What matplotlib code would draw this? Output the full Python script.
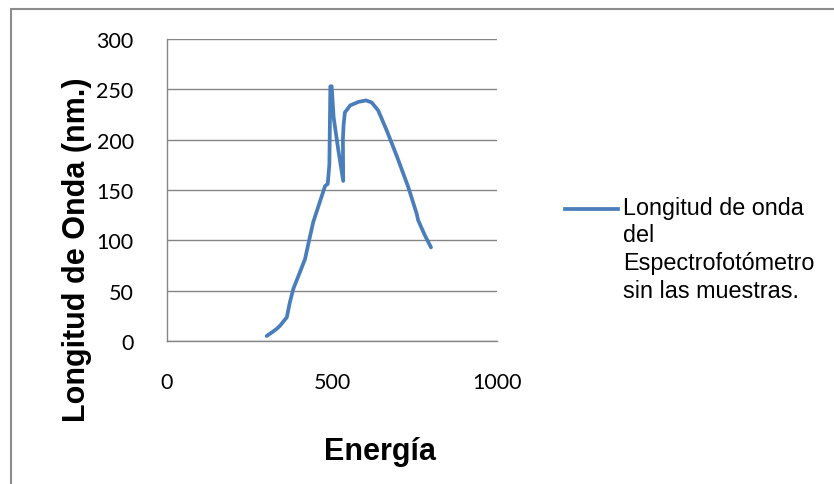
import matplotlib.pyplot as plt
from matplotlib.lines import Line2D
from matplotlib.patches import Rectangle

# Data
energia = [302, 320, 332, 342, 363, 372, 383, 400, 413, 418, 430, 443, 455,
           464, 479, 487, 492, 495, 499, 505, 519, 534, 533, 535, 539, 555,
           580, 603, 620, 640, 666, 696, 731, 757, 761, 780, 800]
longitud = [5, 9, 12, 15, 23.5, 38, 52, 66, 77, 81, 99, 118, 130,
            139, 154, 156, 175, 253, 253, 222, 190, 159, 200, 214, 227, 234,
            237.5, 239, 237, 229, 209, 184, 153, 126, 120, 106, 93]

x_ticks = [0, 500, 1000]
y_ticks = [0, 50, 100, 150, 200, 250, 300]

legend_text = "Longitud de onda\ndel\nEspectrofotómetro\nsin las muestras."

W, H = 834, 485
fig = plt.figure(figsize=(W / 100, H / 100), dpi=100)

# outer chart border (runs off the right and bottom edges)
fig.add_artist(Rectangle((11 / W, -0.1), 1.2, 1 - 10 / H + 0.1,
                         transform=fig.transFigure, fill=False,
                         edgecolor="#8c8c8c", linewidth=1.5))

ax = fig.add_axes([167 / W, 1 - 342 / H, 330 / W, 302 / H])
ax.plot(energia, longitud, color="#4a7ebb", linewidth=2.7,
        solid_joinstyle="round", solid_capstyle="round")

ax.set_xlim(0, 1000)
ax.set_ylim(0, 300)
ax.set_xticks(x_ticks)
ax.set_yticks(y_ticks)
ax.grid(axis="y", color="#868686", linewidth=1.0)
ax.set_axisbelow(True)
for side in ["top", "right"]:
    ax.spines[side].set_visible(False)
for side in ["left", "bottom"]:
    ax.spines[side].set_color("#868686")
    ax.spines[side].set_linewidth(1.0)
ax.tick_params(length=0, labelsize=15.5, labelcolor="black")
ax.tick_params(axis="x", pad=22)
ax.tick_params(axis="y", pad=24)
for lab in ax.get_xticklabels() + ax.get_yticklabels():
    lab.set_family("Lato")

fig.text(380 / W, 1 - 452 / H, "Energía", family="Liberation Sans",
         fontweight="bold", fontsize=22, ha="center", va="center")
fig.text(77 / W, 1 - 250 / H, "Longitud de Onda (nm.)", family="Liberation Sans",
         fontweight="bold", fontsize=22, ha="center", va="center", rotation=90)

# legend drawn by hand so the key sits on the first text line
fig.add_artist(Line2D([565 / W, 618 / W], [1 - 210 / H, 1 - 210 / H],
                      transform=fig.transFigure, color="#4a7ebb", linewidth=2.7))
fig.text(623 / W, 1 - 197 / H, legend_text, family="Liberation Sans",
         fontsize=16.8, ha="left", va="top", linespacing=1.25)

fig.savefig("out.png", dpi=100)
